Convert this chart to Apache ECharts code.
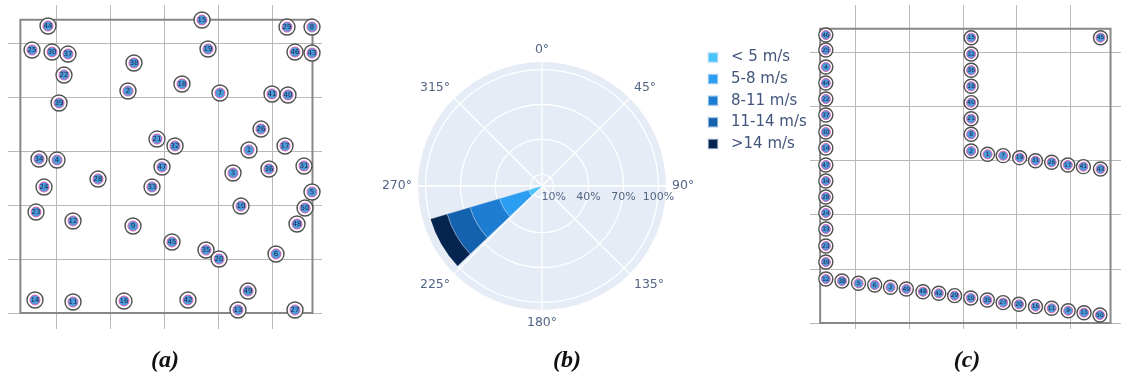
<!DOCTYPE html>
<html><head><meta charset="utf-8">
<script src="https://cdn.jsdelivr.net/npm/echarts@6/dist/echarts.min.js"></script>
<style>html,body{margin:0;padding:0;background:#fff}#c{width:1121px;height:376px}</style>
</head><body><div id="c"></div>
<script>
// ---- Panel (a): scattered layout ----
const aLabels = [44,25,30,37,38,22,2,39,21,34,4,47,15,29,8,19,46,43,18,7,41,40,26,32,1,17,31,24,28,33,23,12,9,14,11,16,3,36,5,10,50,48,45,35,20,6,49,42,13,27];
const aX = [-14.8,-44.4,-7.4,22.2,144.4,14.8,133.3,5.6,187.0,-31.5,1.9,196.3,270.4,427.8,474.1,281.5,442.6,474.1,233.3,303.7,400.0,429.6,379.6,220.4,357.4,424.1,459.3,-22.2,77.8,177.8,-37.0,31.5,142.6,-38.9,31.5,125.9,327.8,394.4,474.1,342.6,461.1,446.3,214.8,277.8,301.9,407.4,355.6,244.4,337.0,442.6];
const aY = [531.5,487.0,483.3,479.6,463.0,440.7,411.1,388.9,322.2,285.2,283.3,270.4,542.6,529.6,529.6,488.9,483.3,481.5,424.1,407.4,405.6,403.7,340.7,309.3,301.9,309.3,272.2,233.3,248.1,233.3,187.0,170.4,161.1,24.1,20.4,22.2,259.3,266.7,224.1,198.1,194.4,164.8,131.5,116.7,100.0,109.3,40.7,24.1,5.6,5.6];

// ---- Panel (c): optimised L layout ----
const cLabels = [46,25,4,44,22,37,30,14,47,34,28,24,33,23,39,12,
  38,5,6,3,49,48,42,29,10,35,27,20,16,11,9,13,50,
  15,32,36,18,40,21,8,2,
  1,7,19,31,26,17,41,43,
  45];
const cX = [-55.4,-55.4,-55.4,-55.4,-55.4,-55.4,-55.4,-55.4,-55.4,-55.4,-55.4,-55.4,-55.4,-55.4,-55.4,-55.4,
  -25.3,5.5,35.6,65.1,94.6,125.5,155.0,184.5,214.6,245.4,274.9,304.4,335.2,365.3,396.1,425.6,455.2,
  215.3,215.3,215.3,215.3,215.3,215.3,215.3,215.3,
  245.9,274.9,305.7,335.2,365.3,395.4,424.4,456.3,
  456.3];
const cY = [531.4,503.7,472.3,442.8,413.3,383.8,352.4,322.9,291.5,262.0,232.5,203.0,173.4,142.1,112.5,81.2,
  77.5,73.2,70.1,65.9,62.7,57.7,54.8,50.4,46.1,42.4,37.5,34.5,30.1,27.1,22.7,19.0,14.8,
  526.4,496.3,466.2,436.7,406.5,376.9,348.2,317.3,
  311.3,308.7,305.0,299.4,296.5,291.5,288.4,284.1,
  526.4];

// farm boundary (same for both layouts)
const boxX = [-66, 475];
const boxY = [0, 543];

// ---- Panel (b): wind rose ----
const directions = ['0°','30°','60°','90°','120°','150°','180°','210°','240°','270°','300°','330°'];
const speedBins = ['< 5 m/s','5-8 m/s','8-11 m/s','11-14 m/s','>14 m/s'];
const freqLt5   = [0,0,0,0,0,0,0,0,12,0,0,0];
const freq5to8  = [0,0,0,0,0,0,0,0,26,0,0,0];
const freq8to11 = [0,0,0,0,0,0,0,0,26.5,0,0,0];
const freq11to14= [0,0,0,0,0,0,0,0,20.5,0,0,0];
const freqGt14  = [0,0,0,0,0,0,0,0,15,0,0,0];
const radialTicks = [10,40,70,100];
const panelTitles = ['(a)','(b)','(c)'];

const binColors = ['#48c4fa','#2b9ef2','#1c7dd3','#1462ad','#062450'];
const tickColor = '#536686';
const legendColor = '#42557a';
const gridLine = {show:true, showMinLine:false, showMaxLine:false, lineStyle:{color:'#b9b9b9', width:1}};
const hiddenAxis = {axisLine:{show:false}, axisTick:{show:false}, axisLabel:{show:false}};

function pts(xs, ys, ls){ return xs.map((x,i)=>[x, ys[i], ls[i]]); }

function turbineSeries(idx, xs, ys, ls, outer, inner, fs){
  const data = pts(xs, ys, ls);
  return [
    {type:'scatter', xAxisIndex:idx, yAxisIndex:idx, data:[], z:1, silent:true,
     markArea:{silent:true, itemStyle:{color:'rgba(0,0,0,0)', borderColor:'#878787', borderWidth:2},
       data:[[{coord:[boxX[0],boxY[0]]},{coord:[boxX[1],boxY[1]]}]]}},
    {type:'scatter', xAxisIndex:idx, yAxisIndex:idx, data, symbolSize:outer, z:3, silent:true,
     itemStyle:{color:'#ffffff', borderColor:'#505050', borderWidth:1.4, opacity:1}},
    {type:'scatter', xAxisIndex:idx, yAxisIndex:idx, data, symbolSize:inner, z:4, silent:true,
     itemStyle:{color:'#4f9bd9', borderColor:'#e35fb4', borderWidth:1, opacity:1},
     label:{show:true, position:'inside', formatter:p=>p.data[2], fontSize:fs, fontFamily:'DejaVu Sans', color:'#14264a'}}
  ];
}

const windData = [freqLt5, freq5to8, freq8to11, freq11to14, freqGt14];

const option = {
  animation:false,
  backgroundColor:'#ffffff',
  title: panelTitles.map((t,i)=>({text:t, left:[165,567,967][i], top:349, textAlign:'center', padding:0,
    textStyle:{fontFamily:'Liberation Serif', fontStyle:'italic', fontWeight:'bold', fontSize:24, color:'#111'}})),
  grid:[
    {left:8, top:5, width:314, height:324},
    {left:810, top:5, width:314, height:324}
  ],
  xAxis:[
    Object.assign({gridIndex:0, type:'value', min:-88.9, max:492.6, splitLine:gridLine}, hiddenAxis),
    Object.assign({gridIndex:1, type:'value', min:-84.9, max:494.5, splitLine:gridLine}, hiddenAxis)
  ],
  yAxis:[
    Object.assign({gridIndex:0, type:'value', min:-29.6, max:570.4, splitLine:gridLine}, hiddenAxis),
    Object.assign({gridIndex:1, type:'value', min:-11.1, max:586.7, splitLine:gridLine}, hiddenAxis)
  ],
  polar:[
    {center:[542,186], radius:124},
    {center:[542,186], radius:124},
    {center:[542,186], radius:124}
  ],
  angleAxis:[
    {polarIndex:0, type:'value', min:90, max:450, interval:45, startAngle:0, clockwise:true, z:2,
     axisLine:{show:false}, axisTick:{show:false},
     axisLabel:{formatter:v=>(v%360)+'°', color:tickColor, fontSize:12.5, fontFamily:'DejaVu Sans', margin:6},
     splitLine:{show:true, lineStyle:{color:'#ffffff', width:1.3}}},
    {polarIndex:1, type:'category', data:directions, startAngle:105, clockwise:true, z:1,
     axisLine:{show:false}, axisTick:{show:false}, axisLabel:{show:false}, splitLine:{show:false}},
    {polarIndex:2, type:'value', min:0, max:360, interval:90, z:0,
     axisLine:{show:false}, axisTick:{show:false}, axisLabel:{show:false}, splitLine:{show:false},
     splitArea:{show:true, areaStyle:{color:['#e5ecf6','#e5ecf6']}}}
  ],
  radiusAxis:[
    {polarIndex:0, type:'value', min:0, max:106.5, z:2,
     axisLine:{show:false}, axisTick:{show:false, customValues:radialTicks},
     axisLabel:{customValues:radialTicks, formatter:'{value}%', color:tickColor, fontSize:11, fontFamily:'DejaVu Sans', margin:-17},
     splitLine:{show:true, lineStyle:{color:'#ffffff', width:1.3}}},
    {polarIndex:1, type:'value', min:0, max:106.5, show:false},
    {polarIndex:2, type:'value', min:0, max:106.5, show:false}
  ],
  legend:{
    data:speedBins, orient:'vertical', left:702, top:45, icon:'rect', itemWidth:10, itemHeight:10, itemGap:6.6,
    selectedMode:false,
    textStyle:{fontSize:15, color:legendColor, fontFamily:'DejaVu Sans', padding:[0,0,0,8]}
  },
  series:[
    ...turbineSeries(0, aX, aY, aLabels, 16, 10, 7),
    ...turbineSeries(1, cX, cY, cLabels, 14, 9, 6),
    ...speedBins.map((name,i)=>({
      type:'bar', name, coordinateSystem:'polar', polarIndex:1, stack:'wind', data:windData[i],
      barCategoryGap:'10%', z:5,
      itemStyle:{color:binColors[i], borderColor:'rgba(229,236,246,0.55)', borderWidth:0.6}
    }))
  ]
};
const chart = echarts.init(document.getElementById('c'), null, {renderer:'canvas'});
chart.setOption(option);
</script>
</body></html>
